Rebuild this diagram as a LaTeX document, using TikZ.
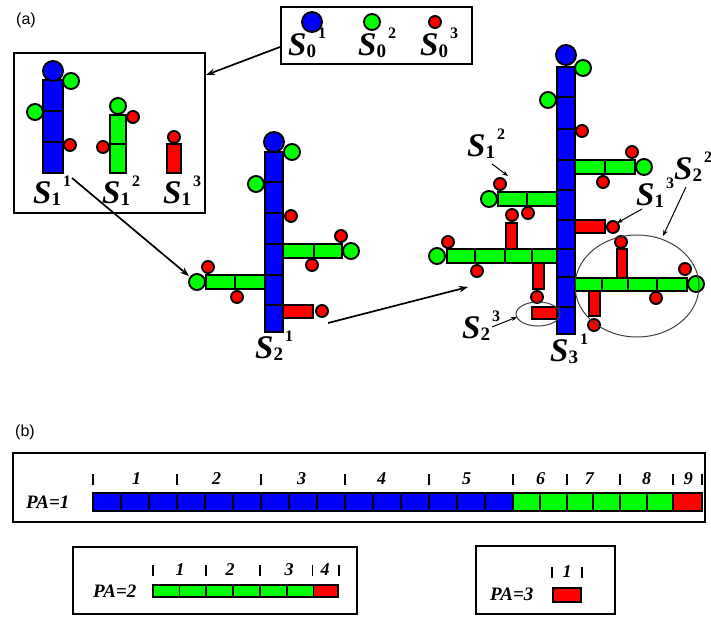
\documentclass[tikz,border=0pt]{standalone}
\usepackage{fontspec}
\setmainfont{Liberation Serif}
\newfontfamily\sansfam{Liberation Sans}
\usetikzlibrary{arrows.meta}
\newcommand{\Slab}[2]{\fontsize{33}{33}\selectfont\bfseries\itshape S\raisebox{-2pt}{\fontsize{19}{19}\selectfont\upshape #1}\kern2pt\raisebox{17pt}{\fontsize{16}{16}\selectfont\upshape #2}}
\tikzset{
 bc/.style={draw=black, fill=blue, line width=1.9pt},
 gc/.style={draw=black, fill=green, line width=1.9pt},
 rc/.style={draw=black, fill=red, line width=1.9pt},
 frame/.style={draw=black, line width=2.4pt},
 arr/.style={-{Stealth[length=9pt,width=6.5pt]}, line width=1.7pt},
 thinarr/.style={-{Stealth[length=6pt,width=4.5pt]}, line width=1pt},
 ring/.style={draw=black!75, line width=1pt},
 slab/.style={anchor=base west, inner sep=0pt},
 tick/.style={line width=1.7pt},
 num/.style={font=\fontsize{18}{18}\selectfont\bfseries\itshape, inner sep=0pt},
 patext/.style={font=\fontsize{19}{19}\selectfont\bfseries\itshape, inner sep=0pt},
 panel/.style={font=\sansfam\fontsize{16}{16}\selectfont, inner sep=0pt}
}
\begin{document}
\begin{tikzpicture}[x=1pt,y=-1pt]
\useasboundingbox (0,0) rectangle (711,617);
\node[panel] (pa) at (26,20) {(a)};
\node[panel] (pb) at (25,432) {(b)};

% ---------- legend box ----------
\draw[frame] (281,7) rectangle (472,64);
\draw[bc] (312,22) circle[radius=10pt];
\draw[gc] (372,22) circle[radius=8pt];
\draw[rc] (435,22) circle[radius=6pt];
\node[slab] (l01) at (288,56) {\Slab{0}{1}};
\node[slab] (l02) at (358,56) {\Slab{0}{2}};
\node[slab] (l03) at (420,56) {\Slab{0}{3}};
\coordinate (legA) at (280,47);
\coordinate (boxA) at (206,75);
\draw[arr] (legA) -- (boxA);

% ---------- box A ----------
\draw[frame] (14,53) rectangle (205,213);
\draw[bc] (43,80) rectangle (63,111);
\draw[bc] (43,111) rectangle (63,142);
\draw[bc] (43,142) rectangle (63,173);
\draw[bc] (53,71) circle[radius=10pt];
\draw[gc] (71,81) circle[radius=8pt];
\draw[gc] (35,112) circle[radius=8pt];
\draw[rc] (70,145) circle[radius=6pt];
\draw[gc] (110,115) rectangle (126,144);
\draw[gc] (110,144) rectangle (126,173);
\draw[gc] (118,106) circle[radius=8pt];
\draw[rc] (133,117) circle[radius=6pt];
\draw[rc] (103,147) circle[radius=6pt];
\draw[rc] (167,144) rectangle (181,173);
\draw[rc] (174,137) circle[radius=6pt];
\node[slab] (l11) at (33,204) {\Slab{1}{1}};
\node[slab] (l12) at (102,204) {\Slab{1}{2}};
\node[slab] (l13) at (163,204) {\Slab{1}{3}};
\coordinate (s11) at (72,178);
\coordinate (s2in) at (189,276);
\draw[arr] (s11) -- (s2in);

% ---------- S2 ----------
\foreach \a/\b in {152/182,182/213,213/244,244/275,275/305,305/332}
  \draw[bc] (265,\a) rectangle (283,\b);
\draw[bc] (274,142) circle[radius=10pt];
\draw[gc] (292,152) circle[radius=8pt];
\draw[gc] (256,184) circle[radius=8pt];
\draw[rc] (291,216) circle[radius=6pt];
\draw[gc] (283,244) rectangle (314,258);
\draw[gc] (314,244) rectangle (342,258);
\draw[gc] (351,251) circle[radius=8pt];
\draw[rc] (341,236) circle[radius=6pt];
\draw[rc] (312,265) circle[radius=6pt];
\draw[gc] (206,275) rectangle (235,289);
\draw[gc] (235,275) rectangle (265,289);
\draw[gc] (197,282) circle[radius=8pt];
\draw[rc] (208,267) circle[radius=6pt];
\draw[rc] (237,297) circle[radius=6pt];
\draw[rc] (283,305) rectangle (313,318);
\draw[rc] (322,311) circle[radius=6pt];
\node[slab] (l21) at (255,358) {\Slab{2}{1}};
\coordinate (s2out) at (328,323);
\coordinate (s3in) at (468,287);
\draw[arr] (s2out) -- (s3in);

% ---------- S3 ----------
\foreach \a/\b in {67/97,97/129,129/160,160/190,190/220,220/249,249/277,277/307,307/334}
  \draw[bc] (557,\a) rectangle (575,\b);
\draw[bc] (566,55) circle[radius=10pt];
\draw[gc] (583,68) circle[radius=8pt];
\draw[gc] (548,100) circle[radius=8pt];
\draw[rc] (582,131) circle[radius=6pt];
% right branch 1
\draw[gc] (575,160) rectangle (605,174);
\draw[gc] (605,160) rectangle (635,174);
\draw[gc] (644,167) circle[radius=8pt];
\draw[rc] (632,152) circle[radius=6pt];
\draw[rc] (603,182) circle[radius=6pt];
% left branch S1^2
\draw[gc] (498,192) rectangle (527,206);
\draw[gc] (527,192) rectangle (557,206);
\draw[gc] (489,199) circle[radius=8pt];
\draw[rc] (500,184) circle[radius=6pt];
\draw[rc] (528,213) circle[radius=6pt];
% red branch S1^3
\draw[rc] (575,220) rectangle (605,233);
\draw[rc] (613,227) circle[radius=6pt];
% left long branch
\draw[rc] (506,223) rectangle (517,249);
\draw[rc] (512,215) circle[radius=6pt];
\draw[rc] (533,263) rectangle (544,289);
\draw[rc] (537,297) circle[radius=6pt];
\foreach \a/\b in {447/475,475/505,505/532,532/557}
  \draw[gc] (\a,249) rectangle (\b,263);
\draw[gc] (437,256) circle[radius=8pt];
\draw[rc] (448,242) circle[radius=6pt];
\draw[rc] (477,271) circle[radius=6pt];
% S2^3
\draw[rc] (532,307) rectangle (557,319);
\draw[ring] (538,314) ellipse[x radius=22pt, y radius=12pt];
% right lower branch S2^2
\draw[rc] (617,249) rectangle (627,278);
\draw[rc] (621,242) circle[radius=6pt];
\draw[rc] (589,291) rectangle (600,316);
\draw[rc] (594,325) circle[radius=6pt];
\foreach \a/\b in {575/602,602/628,628/657,657/687}
  \draw[gc] (\a,278) rectangle (\b,291);
\draw[gc] (696,284) circle[radius=8pt];
\draw[rc] (685,269) circle[radius=6pt];
\draw[rc] (656,298) circle[radius=6pt];
\draw[ring] (637,286) ellipse[x radius=62pt, y radius=51pt];
% labels
\node[slab] (m12) at (467,157) {\Slab{1}{2}};
\coordinate (m12a) at (492,164);
\coordinate (m12b) at (508,176);
\draw[thinarr] (m12a) -- (m12b);
\node[slab] (m13) at (636,206) {\Slab{1}{3}};
\coordinate (m13a) at (642,209);
\coordinate (m13b) at (617,223);
\draw[thinarr] (m13a) -- (m13b);
\node[slab] (m22) at (674,180) {\Slab{2}{2}};
\coordinate (m22a) at (686,187);
\coordinate (m22b) at (663,236);
\draw[thinarr] (m22a) -- (m22b);
\node[slab] (m23) at (462,338) {\Slab{2}{3}};
\coordinate (m23a) at (492,327);
\coordinate (m23b) at (517,317);
\draw[thinarr] (m23a) -- (m23b);
\node[slab] (m31) at (550,361) {\Slab{3}{1}};

% ---------- (b) PA=1 ----------
\draw[draw=black, line width=2.8pt] (13,453) rectangle (705,522);
\node[patext, anchor=base west] (pa1) at (26,508) {PA=1};
\foreach \i in {0,...,14} \draw[bc] ({92.7+28.04*\i},493) rectangle ++(28.04,18);
\foreach \i in {0,...,5} \draw[gc] ({513.3+26.67*\i},493) rectangle ++(26.67,18);
\draw[rc] (673.3,493) rectangle (701.7,511);
\foreach \x in {92.7,176.8,260.9,345,429,513.3,566.7,620,673.3,701.7}
  \draw[tick] (\x,474) -- (\x,485);
\foreach \x/\n in {136.7/1,216.7/2,301.7/3,381.7/4,466.7/5,540.7/6,589.3/7,646.7/8,688.3/9}
  \node[num] (n1\n) at (\x,479) {\n};

% ---------- PA=2 ----------
\draw[frame] (73,547) rectangle (357,614);
\node[patext, anchor=base west] (pa2) at (93,597) {PA=2};
\foreach \i in {0,...,5} \draw[gc] ({152.7+26.8*\i},585) rectangle ++(26.8,12);
\draw[rc] (313.5,585) rectangle (338.3,597);
\foreach \x in {152.7,206,260,312.5,339.3}
  \draw[tick] (\x,565) -- (\x,576);
\foreach \x/\n in {180/1,230/2,289/3,325/4}
  \node[num] (n2\n) at (\x,570) {\n};

% ---------- PA=3 ----------
\draw[frame] (476,546) rectangle (615,614);
\node[patext, anchor=base west] (pa3) at (490,600) {PA=3};
\draw[rc] (553,588) rectangle (581,602);
\foreach \x in {552,582}
  \draw[tick] (\x,567) -- (\x,578);
\node[num] (n31) at (567,572) {1};
\end{tikzpicture}
\end{document}
